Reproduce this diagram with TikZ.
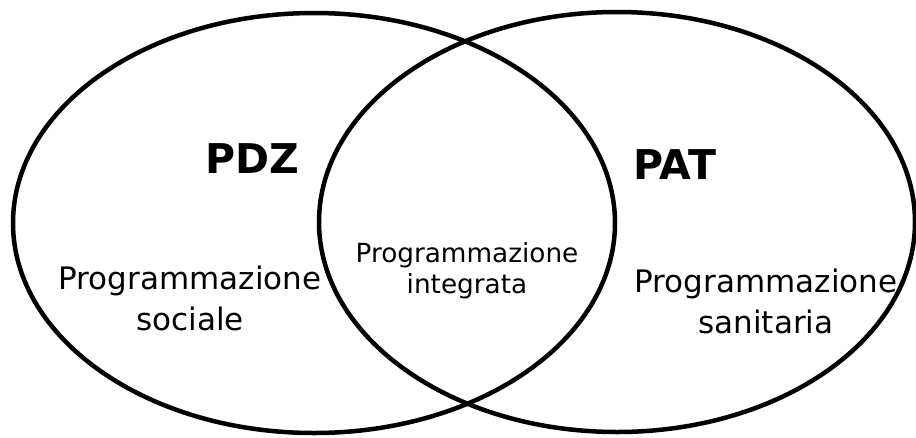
\documentclass[tikz,border=0pt]{standalone}
\usepackage{fontspec}
\setmainfont{DejaVu Sans}
\begin{document}
\begin{tikzpicture}[x=1pt,y=-1pt,line join=round]
		%==parameters
		\def\rxa{301}
		\def\rxb{298}
		\def\ry{210}
		%==============
		\useasboundingbox (0,0) rectangle (916,437);
		\coordinate (L) at (314,223);
		\coordinate (R) at (617,222);
		\draw[line width=4.5pt] (L) ellipse [x radius=\rxa pt, y radius=\ry pt];
		\draw[line width=4.5pt] (R) ellipse [x radius=\rxb pt, y radius=\ry pt];
		\node[anchor=base,inner sep=0pt,font=\fontsize{41}{49}\selectfont\bfseries] (pdz) at (252,173) {PDZ};
		\node[anchor=base,inner sep=0pt,font=\fontsize{41}{49}\selectfont\bfseries] (pat) at (675,179) {PAT};
		\node[anchor=base,inner sep=0pt,align=center,font=\fontsize{31}{38}\selectfont] (soc) at (190,330) {Programmazione\\[3pt]sociale};
		\node[anchor=base,inner sep=0pt,align=center,font=\fontsize{26.3}{31}\selectfont] (int) at (467,293) {Programmazione\\integrata};
		\node[anchor=base,inner sep=0pt,align=center,font=\fontsize{31}{38}\selectfont] (san) at (766,333) {Programmazione\\[3pt]sanitaria};
		\end{tikzpicture}
\end{document}
